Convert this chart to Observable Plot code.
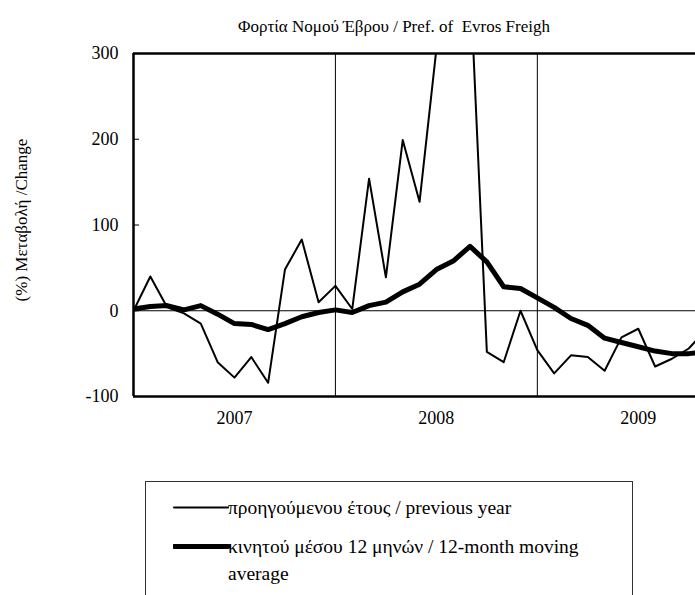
<!DOCTYPE html>
<html><head><meta charset="utf-8">
<script src="https://cdn.jsdelivr.net/npm/d3@7"></script>
<script src="https://cdn.jsdelivr.net/npm/@observablehq/plot@0.6"></script>
<style>
body{margin:0;background:#fff;font-family:"Liberation Serif","Times New Roman",serif;color:#000;}
#wrap{position:relative;width:695px;height:595px;overflow:hidden;background:#fff;}
#title{position:absolute;top:18px;left:0;width:788px;text-align:center;font-size:17px;line-height:18px;white-space:pre;}
#ytitle{position:absolute;left:22px;top:220px;transform:translate(-50%,-50%) rotate(-90deg);font-size:17px;white-space:nowrap;line-height:20px;}
#chart{position:absolute;left:0;top:0;}
#legend{position:absolute;left:145px;top:481px;width:488px;height:220px;border:1px solid #333;box-sizing:border-box;}
.lrow{position:absolute;left:0;font-size:19.5px;line-height:27px;white-space:nowrap;}
.lrow svg{position:absolute;left:27px;top:0;}
.lrow span{position:absolute;left:82px;top:0;}
</style></head>
<body><div id="wrap">
<div id="title"></div>
<div id="ytitle"></div>
<div id="chart"></div>
<div id="legend"></div>
</div>
<script>
const titleText = "Φορτία Νομού Έβρου / Pref. of  Evros Freigh";
const yTitle = "(%) Μεταβολή /Change";
const months = ["2007-01","2007-02","2007-03","2007-04","2007-05","2007-06","2007-07","2007-08","2007-09","2007-10","2007-11","2007-12",
  "2008-01","2008-02","2008-03","2008-04","2008-05","2008-06","2008-07","2008-08","2008-09","2008-10","2008-11","2008-12",
  "2009-01","2009-02","2009-03","2009-04","2009-05","2009-06","2009-07","2009-08","2009-09","2009-10","2009-11"];
const prevYear = [0,40,4,-3,-15,-60,-78,-54,-84,48,83,10,29,2,154,39,199,127,305,420,390,-48,-60,0,-46,-73,-52,-54,-70,-31,-21,-65,-56,-44,-23];
const movingAvg = [2,5,6,1,6,-4,-15,-16,-22,-15,-7,-2,1,-2,6,10,22,31,48,58,75,57,28,26,15,4,-9,-17,-32,-37,-42,-47,-50,-50,-48];
const yTicks = [300,200,100,0,-100];
const yearLabels = ["2007","2008","2009"];
const yearLabelMonths = ["2007-07","2008-07","2009-07"];
const yearStartMonths = ["2008-01","2009-01"];
const legendLabels = ["προηγούμενου έτους / previous year", "κινητού μέσου 12 μηνών / 12-month moving<br>average"];

document.getElementById("title").textContent = titleText;
document.getElementById("ytitle").textContent = yTitle;

const data = months.map((m, i) => ({i, month: m, prev: prevYear[i], avg: movingAvg[i]}));
const labelPos = yearLabelMonths.map(m => months.indexOf(m));
const labelAt = new Map(labelPos.map((p, k) => [p, yearLabels[k]]));
const yearStarts = yearStartMonths.map(m => months.indexOf(m));

const chart = Plot.plot({
  width: 695, height: 430,
  marginLeft: 133, marginRight: 0, marginTop: 53, marginBottom: 34,
  style: {fontFamily: "'Liberation Serif', 'Times New Roman', serif", fontSize: "18px", color: "black", background: "transparent", overflow: "visible"},
  x: {type: "linear", domain: [0, 33.4]},
  y: {domain: [-100, 300]},
  marks: [
    Plot.ruleY([0], {stroke: "black", strokeWidth: 1}),
    Plot.ruleX(yearStarts, {stroke: "black", strokeWidth: 1}),
    Plot.line(data, {x: "i", y: "prev", stroke: "black", strokeWidth: 2, clip: true}),
    Plot.line(data, {x: "i", y: "avg", stroke: "black", strokeWidth: 5, clip: true}),
    Plot.ruleY([300, -100], {stroke: "black", strokeWidth: 2.5}),
    Plot.ruleX([0], {stroke: "black", strokeWidth: 2.5}),
    Plot.axisY({ticks: yTicks, tickSize: 6, dx: 6, tickFormat: () => "", label: null}),
    Plot.axisY({ticks: yTicks, tickSize: 0, tickPadding: 15, tickFormat: d => String(d), label: null}),
    Plot.axisX({ticks: labelPos, tickSize: 0, tickPadding: 15, tickFormat: d => labelAt.get(d), label: null})
  ]
});
document.getElementById("chart").appendChild(chart);

const legend = document.getElementById("legend");
const rows = [{top: 12, w: 2}, {top: 51, w: 5}];
legendLabels.forEach((lab, k) => {
  const r = document.createElement("div");
  r.className = "lrow";
  r.style.top = rows[k].top + "px";
  r.innerHTML = `<svg width="58" height="27"><line x1="1" x2="55" y1="13.5" y2="13.5" stroke="black" stroke-width="${rows[k].w}" stroke-linecap="round"/></svg><span>${lab}</span>`;
  legend.appendChild(r);
});
</script>
</body></html>
